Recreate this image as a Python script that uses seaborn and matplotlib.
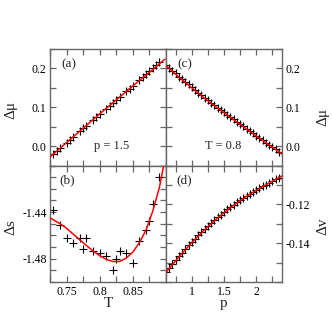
import seaborn as sns
import matplotlib
matplotlib.use('Agg')
from matplotlib import pyplot as plt
from matplotlib.ticker import MultipleLocator, FixedLocator, FormatStrFormatter

# (a) delta mu vs T at p = 1.5
T_a = [0.73, 0.735, 0.74, 0.75, 0.755, 0.76, 0.77, 0.775, 0.78, 0.79, 0.795, 0.80, 0.81, 0.815,
       0.82, 0.825, 0.83, 0.84, 0.845, 0.85, 0.86, 0.865, 0.87, 0.875, 0.88, 0.885, 0.89]
dmu_a = [-0.021, -0.013, -0.006, 0.009, 0.016, 0.024, 0.038, 0.046, 0.053, 0.067, 0.075, 0.083,
         0.096, 0.104, 0.112, 0.119, 0.126, 0.141, 0.148, 0.156, 0.171, 0.178, 0.186, 0.194,
         0.201, 0.208, 0.216]
T_a_fit = [0.725, 0.75, 0.775, 0.80, 0.825, 0.85, 0.875, 0.8985]
dmu_a_fit = [-0.028, 0.009, 0.046, 0.083, 0.119, 0.155, 0.190, 0.224]

# (b) delta s vs T
T_b = [0.73, 0.74, 0.75, 0.76, 0.77, 0.775, 0.78, 0.79, 0.80, 0.81, 0.82, 0.825, 0.83, 0.84,
       0.85, 0.86, 0.87, 0.875, 0.88, 0.89]
ds_b = [-1.4386, -1.4513, -1.4624, -1.4667, -1.4626, -1.4717, -1.4626, -1.4731, -1.4748,
        -1.4780, -1.4896, -1.4806, -1.4737, -1.4748, -1.4841, -1.4647, -1.4554, -1.4473,
        -1.4334, -1.4099]
T_b_fit = [0.725, 0.73, 0.74, 0.75, 0.76, 0.77, 0.78, 0.79, 0.80, 0.81, 0.82, 0.83, 0.84,
           0.85, 0.86, 0.87, 0.88, 0.89, 0.9]
ds_b_fit = [-1.4450, -1.4466, -1.4499, -1.4539, -1.4589, -1.4638, -1.4687, -1.4734, -1.4774,
            -1.4806, -1.4824, -1.4824, -1.4795, -1.4743, -1.4661, -1.4552, -1.4392, -1.4189,
            -1.3900]

# (c) delta mu vs p at T = 0.8
p_c = [0.60, 0.65, 0.70, 0.75, 0.80, 0.85, 0.90, 0.95, 1.00, 1.05, 1.10, 1.15, 1.20, 1.25,
       1.30, 1.35, 1.40, 1.45, 1.50, 1.55, 1.60, 1.65, 1.70, 1.75, 1.80, 1.85, 1.90, 1.95,
       2.00, 2.05, 2.10, 2.15, 2.20, 2.25, 2.30, 2.35, 2.40]
dmu_c = [0.208, 0.201, 0.193, 0.187, 0.179, 0.173, 0.165, 0.159, 0.151, 0.145, 0.137, 0.131,
         0.124, 0.118, 0.111, 0.105, 0.099, 0.093, 0.087, 0.081, 0.075, 0.069, 0.063, 0.057,
         0.051, 0.045, 0.039, 0.033, 0.027, 0.021, 0.015, 0.009, 0.004, -0.002, -0.008,
         -0.014, -0.019]
p_c_fit = [0.6, 0.8, 1.0, 1.2, 1.4, 1.6, 1.8, 2.0, 2.2, 2.4]
dmu_c_fit = [0.207, 0.178, 0.150, 0.123, 0.098, 0.074, 0.050, 0.026, 0.003, -0.020]

# (d) delta v vs p
dv_d = [-0.1548, -0.1528, -0.1508, -0.1488, -0.1468, -0.1449, -0.1431, -0.1412, -0.1394,
        -0.1377, -0.1360, -0.1343, -0.1327, -0.1312, -0.1297, -0.1282, -0.1267, -0.1253,
        -0.1240, -0.1226, -0.1213, -0.1201, -0.1189, -0.1178, -0.1167, -0.1156, -0.1146,
        -0.1136, -0.1126, -0.1116, -0.1107, -0.1098, -0.1089, -0.1080, -0.1071, -0.1062,
        -0.1053]
p_d_fit = [0.6, 0.8, 1.0, 1.2, 1.4, 1.6, 1.8, 2.0, 2.2, 2.4]
dv_d_fit = [-0.1550, -0.1471, -0.1397, -0.1330, -0.1270, -0.1216, -0.1169, -0.1128,
            -0.1090, -0.1054]

FRAME = '#666666'

sns.set_style('ticks')
plt.rcParams['font.family'] = ['Liberation Serif', 'DejaVu Serif']
plt.rcParams['mathtext.fontset'] = 'stix'
plt.rcParams.update({
    'xtick.direction': 'in', 'ytick.direction': 'in',
    'xtick.top': True, 'ytick.right': True,
    'xtick.color': FRAME, 'ytick.color': FRAME,
    'xtick.labelcolor': 'black', 'ytick.labelcolor': 'black',
    'xtick.major.size': 4, 'ytick.major.size': 4,
    'xtick.minor.size': 4, 'ytick.minor.size': 4,
    'xtick.major.width': 0.9, 'ytick.major.width': 0.9,
    'xtick.minor.width': 0.9, 'ytick.minor.width': 0.9,
    'xtick.labelsize': 8.5, 'ytick.labelsize': 8.5,
    'xtick.major.pad': 3, 'ytick.major.pad': 2.4,
    'axes.edgecolor': FRAME, 'axes.linewidth': 1.0,
})

fig, axes = plt.subplots(2, 2, figsize=(3.32, 3.32), dpi=100, sharex='col')
fig.subplots_adjust(left=0.1506, right=0.8494, bottom=0.1506, top=0.8524,
                    wspace=0, hspace=0)
ax_a, ax_c = axes[0]
ax_b, ax_d = axes[1]


def panel(ax, x, y, xf, yf):
    sns.lineplot(x=xf, y=yf, ax=ax, color='red', linewidth=1.1, zorder=3)
    sns.scatterplot(x=x, y=y, ax=ax, marker='+', color='black', s=30,
                    linewidth=0.8, zorder=2)
    ax.set_xlabel('')
    ax.set_ylabel('')


panel(ax_a, T_a, dmu_a, T_a_fit, dmu_a_fit)
panel(ax_b, T_b, ds_b, T_b_fit, ds_b_fit)
panel(ax_c, p_c, dmu_c, p_c_fit, dmu_c_fit)
panel(ax_d, p_c, dv_d, p_d_fit, dv_d_fit)

# limits and ticks
for ax in (ax_a, ax_b):
    ax.set_xlim(0.725, 0.9)
    ax.xaxis.set_major_locator(FixedLocator([0.75, 0.8, 0.85]))
    ax.xaxis.set_minor_locator(MultipleLocator(0.025))
    ax.xaxis.set_major_formatter(FormatStrFormatter('%g'))
for ax in (ax_c, ax_d):
    ax.set_xlim(0.6, 2.4)
    ax.xaxis.set_major_locator(FixedLocator([1, 1.5, 2]))
    ax.xaxis.set_minor_locator(MultipleLocator(0.25))
    ax.xaxis.set_major_formatter(FormatStrFormatter('%g'))

for ax in (ax_a, ax_c):
    ax.set_ylim(-0.05, 0.25)
    ax.yaxis.set_major_locator(FixedLocator([0.0, 0.1, 0.2]))
    ax.yaxis.set_minor_locator(MultipleLocator(0.05))
    ax.yaxis.set_major_formatter(FormatStrFormatter('%.1f'))

ax_b.set_ylim(-1.5, -1.4)
ax_b.yaxis.set_major_locator(FixedLocator([-1.48, -1.44]))
ax_b.yaxis.set_minor_locator(MultipleLocator(0.01))
ax_b.yaxis.set_major_formatter(FormatStrFormatter('%.2f'))

ax_d.set_ylim(-0.16, -0.10)
ax_d.yaxis.set_major_locator(FixedLocator([-0.14, -0.12]))
ax_d.yaxis.set_minor_locator(MultipleLocator(0.01))
ax_d.yaxis.set_major_formatter(FormatStrFormatter('%.2f'))

for ax in axes.flat:
    ax.tick_params(which='both', top=True, right=True, left=True, bottom=True)
for ax in (ax_c, ax_d):
    ax.tick_params(which='both', labelleft=False, labelright=True)
    ax.yaxis.set_label_position('right')

# axis labels
ax_a.set_ylabel('Δμ', fontsize=11)
ax_b.set_ylabel('Δs', fontsize=11)
ax_c.set_ylabel('Δμ', fontsize=11, rotation=90)
ax_d.set_ylabel('Δv', fontsize=11, rotation=90)
ax_b.set_xlabel('T', fontsize=11)
ax_d.set_xlabel('p', fontsize=11)

ax_a.yaxis.set_label_coords(-0.339, 0.48)
ax_b.yaxis.set_label_coords(-0.339, 0.47)
ax_c.yaxis.set_label_coords(1.356, 0.42)
ax_d.yaxis.set_label_coords(1.356, 0.48)
for ax in axes.flat:
    ax.yaxis.label.set_verticalalignment('center')
    ax.yaxis.label.set_horizontalalignment('center')
    ax.yaxis.label.set_rotation_mode('anchor')
for ax in (ax_b, ax_d):
    ax.xaxis.set_label_coords(0.5, -0.184)
    ax.xaxis.label.set_verticalalignment('center')

# panel annotations
ax_a.text(0.095, 0.872, '(a)', transform=ax_a.transAxes, fontsize=9.5, va='center', ha='left')
ax_c.text(0.097, 0.872, '(c)', transform=ax_c.transAxes, fontsize=9.5, va='center', ha='left')
ax_b.text(0.083, 0.873, '(b)', transform=ax_b.transAxes, fontsize=9.5, va='center', ha='left')
ax_d.text(0.092, 0.873, '(d)', transform=ax_d.transAxes, fontsize=9.5, va='center', ha='left')
ax_a.text(0.532, 0.165, 'p = 1.5', transform=ax_a.transAxes, fontsize=9, va='center', ha='center')
ax_c.text(0.494, 0.165, 'T = 0.8', transform=ax_c.transAxes, fontsize=9, va='center', ha='center')

plt.savefig('out.png', dpi=100)
